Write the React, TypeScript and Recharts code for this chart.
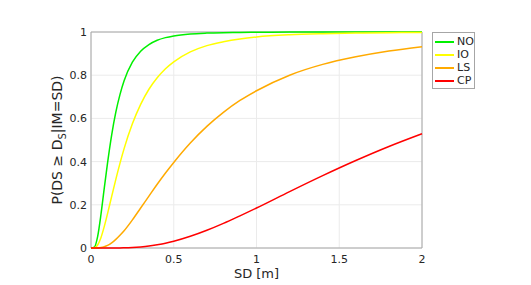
import { LineChart, Line, XAxis, YAxis, CartesianGrid, ReferenceArea } from "recharts";

// spectral displacement grid [m]
const sdValues = [
  0, 0.02, 0.04, 0.06, 0.08, 0.1, 0.125, 0.15, 0.175, 0.2, 0.25, 0.3, 0.35, 0.4, 0.45, 0.5,
  0.6, 0.7, 0.8, 0.9, 1.0, 1.2, 1.4, 1.6, 1.8, 2.0,
];

// exceedance probabilities
const noValues = [
  0, 0.004, 0.053, 0.154, 0.276, 0.394, 0.524, 0.629, 0.71, 0.774, 0.86, 0.911, 0.942, 0.962, 0.974,
  0.982, 0.991, 0.995, 0.997, 0.998, 0.999, 0.9996, 0.9998, 0.9999, 1, 1,
];
const ioValues = [
  0, 0.001, 0.014, 0.048, 0.099, 0.159, 0.239, 0.318, 0.392, 0.46, 0.575, 0.665, 0.735, 0.788, 0.83,
  0.862, 0.908, 0.937, 0.955, 0.968, 0.977, 0.987, 0.992, 0.995, 0.997, 0.998,
];
const lsValues = [
  0, 0, 0.0003, 0.002, 0.006, 0.012, 0.024, 0.04, 0.059, 0.08, 0.13, 0.185, 0.24, 0.295, 0.347,
  0.396, 0.486, 0.563, 0.628, 0.683, 0.728, 0.8, 0.85, 0.885, 0.912, 0.932,
];
const cpValues = [
  0, 0, 0, 0, 0, 0, 0.0001, 0.0002, 0.0004, 0.0008, 0.0023, 0.005, 0.009, 0.015, 0.022, 0.031,
  0.054, 0.082, 0.114, 0.149, 0.185, 0.261, 0.335, 0.405, 0.47, 0.529,
];

const xTicks = [0, 0.5, 1, 1.5, 2];
const yTicks = [0, 0.2, 0.4, 0.6, 0.8, 1];

const series = [
  { key: "NO", values: noValues, color: "#00f000" },
  { key: "IO", values: ioValues, color: "#ffff00" },
  { key: "LS", values: lsValues, color: "#ffaa00" },
  { key: "CP", values: cpValues, color: "#ff0000" },
];

const data = sdValues.map((sd, i) => {
  const row: Record<string, number> = { sd };
  series.forEach((s) => {
    row[s.key] = s.values[i];
  });
  return row;
});

const FONT = "'DejaVu Sans', sans-serif";
const TEXT = "#262626";

const YLabel = (props: any) => {
  const vb = props.viewBox;
  const cx = 54;
  const cy = vb.y + vb.height / 2;
  return (
    <text
      x={cx}
      y={cy}
      transform={`rotate(-90 ${cx} ${cy})`}
      textAnchor="middle"
      fontSize={14}
      fontFamily={FONT}
      fill={TEXT}
    >
      <tspan>P(DS ≥ D</tspan>
      <tspan dy={4} fontSize={10}>S</tspan>
      <tspan dy={-4}>|IM=SD)</tspan>
    </text>
  );
};

const XLabel = (props: any) => {
  const vb = props.viewBox;
  return (
    <text
      x={vb.x + vb.width / 2}
      y={270}
      textAnchor="middle"
      fontSize={13}
      fontFamily={FONT}
      fill={TEXT}
    >
      SD [m]
    </text>
  );
};

export default function App() {
  return (
    <div style={{ position: "relative", width: 515, height: 277 }}>
      <LineChart
        width={515}
        height={277}
        data={data}
        margin={{ top: 24, right: 101, bottom: 0, left: 0 }}
      >
        <CartesianGrid stroke="#ebebeb" />
        <XAxis
          dataKey="sd"
          type="number"
          domain={[0, 2]}
          ticks={xTicks}
          height={37}
          tickLine={false}
          tickSize={4}
          tickMargin={3}
          axisLine={false}
          tick={{ fontSize: 11, fill: TEXT, fontFamily: FONT }}
          label={{ content: XLabel }}
        />
        <YAxis
          type="number"
          domain={[0, 1]}
          ticks={yTicks}
          width={83}
          tickLine={false}
          tickSize={2}
          tickMargin={2}
          axisLine={false}
          tick={{ fontSize: 11, fill: TEXT, fontFamily: FONT }}
          label={{ content: YLabel }}
        />
        <ReferenceArea x1={0} x2={2} y1={0} y2={1} fill="none" stroke="#a6a6a6" strokeWidth={1} />
        {series.map((s) => (
          <Line
            key={s.key}
            dataKey={s.key}
            type="monotone"
            stroke={s.color}
            strokeWidth={1.5}
            dot={false}
            isAnimationActive={false}
          />
        ))}
      </LineChart>
      <div
        style={{
          position: "absolute",
          left: 424,
          top: 24,
          width: 43,
          height: 57,
          border: "1px solid #a6a6a6",
          background: "#fff",
          boxSizing: "border-box",
          fontFamily: FONT,
          fontSize: 11,
          color: TEXT,
          padding: "2px 0 0 2px",
        }}
      >
        {series.map((s) => (
          <div key={s.key} style={{ display: "flex", alignItems: "center", height: 13 }}>
            <div style={{ width: 19, height: 2, background: s.color, marginRight: 3 }} />
            <span>{s.key}</span>
          </div>
        ))}
      </div>
    </div>
  );
}
